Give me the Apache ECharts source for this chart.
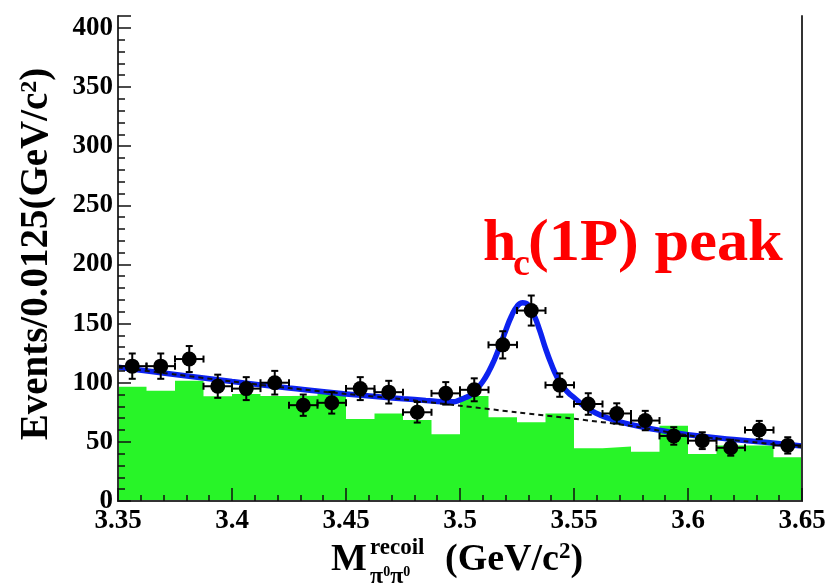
<!DOCTYPE html>
<html><head><meta charset="utf-8">
<script src="https://cdn.jsdelivr.net/npm/echarts@6/dist/echarts.min.js"></script>
<style>html,body{margin:0;padding:0;background:#fff}#c{width:831px;height:588px}</style>
</head><body><div id="c"></div>
<script>
const BIN_WIDTH = 0.0125;
const binCenters = [3.35625, 3.36875, 3.38125, 3.39375, 3.40625, 3.41875, 3.43125, 3.44375,
  3.45625, 3.46875, 3.48125, 3.49375, 3.50625, 3.51875, 3.53125, 3.54375,
  3.55625, 3.56875, 3.58125, 3.59375, 3.60625, 3.61875, 3.63125, 3.64375];
const dataCounts = [114, 114, 120, 97, 95, 100, 81, 83, 95, 92, 75, 91,
  94, 132, 161, 98, 82, 74, 68, 55, 51, 45, 60, 47];
const dataErrors = [10.7, 10.7, 11.0, 9.8, 9.7, 10.0, 9.0, 9.1, 9.7, 9.6, 8.7, 9.5,
  9.7, 11.5, 12.7, 9.9, 9.1, 8.6, 8.2, 7.4, 7.1, 6.7, 7.7, 6.9];
const mcHist = [96.5, 93.3, 101.7, 88.5, 90.5, 88.8, 89, 91, 69.3, 74, 68.5, 56.4,
  88.8, 70.8, 66.5, 74, 44.5, 46, 41.7, 63.7, 39.7, 47, 47, 37];
const fitX = [3.35, 3.375, 3.4, 3.425, 3.45, 3.475, 3.485, 3.4925, 3.4975, 3.5, 3.5025, 3.505,
  3.5075, 3.51, 3.5125, 3.515, 3.5175, 3.52, 3.5225, 3.525, 3.5275, 3.53, 3.5325, 3.535,
  3.5375, 3.54, 3.5425, 3.545, 3.5475, 3.55, 3.555, 3.56, 3.565, 3.57, 3.58, 3.59, 3.6,
  3.61, 3.62, 3.635, 3.65];
const fitY = [113, 107, 101, 95.5, 90.5, 86.5, 85, 84, 84, 85.5, 87.5, 90,
  95, 101, 109, 119, 131, 144, 156, 164.5, 167.5, 165.5, 157, 144,
  129, 116, 105, 97, 91.5, 87.5, 79.5, 74, 70, 67, 62.5, 59, 56,
  54, 52, 49.5, 46.5];
const bkgX = [3.35, 3.375, 3.4, 3.425, 3.45, 3.475, 3.5, 3.525, 3.55, 3.575, 3.6, 3.625, 3.65];
const bkgY = [113, 107, 101, 95.5, 90.5, 86, 80.5, 75, 69.5, 63.5, 55.5, 50.5, 45.5];
const yTickLabels = [0, 50, 100, 150, 200, 250, 300, 350, 400];
const X_MIN = 3.35, X_MAX = 3.65, Y_MAX = 410;

const SERIF = '"Liberation Serif", "Times New Roman", serif';
const histData = binCenters.map((c, i) => [c - BIN_WIDTH / 2, mcHist[i]]);
histData.push([binCenters[binCenters.length - 1] + BIN_WIDTH / 2, mcHist[mcHist.length - 1]]);
const ptsData = binCenters.map((c, i) => [c, dataCounts[i], dataErrors[i]]);
const fitData = fitX.map((x, i) => [x, fitY[i]]);
const bkgData = bkgX.map((x, i) => [x, bkgY[i]]);

function renderErr(params, api) {
  const c = api.value(0), v = api.value(1), e = api.value(2);
  const pL = api.coord([c - BIN_WIDTH / 2, v]);
  const pR = api.coord([c + BIN_WIDTH / 2, v]);
  const pT = api.coord([c, v + e]);
  const pB = api.coord([c, v - e]);
  const st = { stroke: '#000', lineWidth: 2 };
  const cap = 3.5;
  const L = (x1, y1, x2, y2) => ({ type: 'line', shape: { x1, y1, x2, y2 }, style: st });
  return { type: 'group', children: [
    L(pL[0], pL[1], pR[0], pR[1]),
    L(pT[0], pT[1], pB[0], pB[1]),
    L(pL[0], pL[1] - cap, pL[0], pL[1] + cap),
    L(pR[0], pR[1] - cap, pR[0], pR[1] + cap),
    L(pT[0] - cap, pT[1], pT[0] + cap, pT[1]),
    L(pB[0] - cap, pB[1], pB[0] + cap, pB[1])
  ]};
}

const frameLine = { show: true, lineStyle: { color: '#333', width: 2 } };
const labelFont = { fontFamily: SERIF, fontWeight: 'bold', fontSize: 27, color: '#000' };
const richT = (size, supSize) => ({
  a: { fontFamily: SERIF, fontWeight: 'bold', fontSize: size, fill: '#000' },
  s: { fontFamily: SERIF, fontWeight: 'bold', fontSize: supSize, fill: '#000', verticalAlign: 'top' }
});

const chart = echarts.init(document.getElementById('c'), null, { renderer: 'canvas' });
chart.setOption({
  animation: false,
  backgroundColor: '#fff',
  grid: { left: 118, right: 29, top: 16, bottom: 87 },
  xAxis: [{
    type: 'value', min: X_MIN, max: X_MAX, interval: 0.05, position: 'bottom', z: 10,
    axisLine: frameLine,
    axisTick: { inside: true, length: 13, lineStyle: { color: '#111', width: 1.5 } },
    minorTick: { show: true, splitNumber: 5, length: 6, lineStyle: { color: '#111', width: 1.5 } },
    splitLine: { show: false }, minorSplitLine: { show: false },
    axisLabel: Object.assign({ margin: 7 }, labelFont)
  }, {
    type: 'value', min: X_MIN, max: X_MAX, position: 'top', z: 10,
    axisLine: frameLine, axisTick: { show: false }, axisLabel: { show: false }, splitLine: { show: false }
  }],
  yAxis: [{
    type: 'value', min: 0, max: Y_MAX, interval: 10, position: 'left', z: 10,
    axisLine: frameLine,
    axisTick: { inside: true, length: 7, lineStyle: { color: '#111', width: 1.5 } },
    splitLine: { show: false },
    axisLabel: Object.assign({ margin: 5, formatter: v => yTickLabels.indexOf(v) >= 0 ? String(v) : '' }, labelFont)
  }, {
    type: 'value', min: 0, max: Y_MAX, interval: 50, position: 'left', z: 10,
    axisLine: { show: false },
    axisTick: { inside: true, length: 13, lineStyle: { color: '#111', width: 1.5 } },
    splitLine: { show: false }, axisLabel: { show: false }
  }, {
    type: 'value', min: 0, max: Y_MAX, position: 'right', z: 10,
    axisLine: frameLine, axisTick: { show: false }, axisLabel: { show: false }, splitLine: { show: false }
  }],
  series: [{
    type: 'line', data: histData, step: 'end', symbol: 'none', z: 1,
    lineStyle: { width: 0, opacity: 0 },
    areaStyle: { color: '#28f428', opacity: 1 }
  }, {
    type: 'line', data: fitData, smooth: 0.5, symbol: 'none', z: 3,
    lineStyle: { color: '#0c22f0', width: 5.5 }
  }, {
    type: 'line', data: bkgData, smooth: 0.3, symbol: 'none', z: 4,
    lineStyle: { color: '#111', width: 2, type: [5, 4] }
  }, {
    type: 'custom', data: ptsData, renderItem: renderErr, z: 5,
    encode: { x: 0, y: 1 }
  }, {
    type: 'scatter', data: ptsData.map(p => [p[0], p[1]]), symbol: 'circle', symbolSize: 15, z: 6,
    itemStyle: { color: '#000', opacity: 1 }
  }],
  graphic: [
    { type: 'text', x: 37, y: 254, rotation: Math.PI / 2, z: 20,
      style: { text: '{a|Events/0.0125(GeV/c}{s|2}{a|)}', fill: '#000', rich: richT(39, 24),
        align: 'center', verticalAlign: 'middle', textAlign: 'center', textVerticalAlign: 'middle' } },
    { type: 'text', x: 331, y: 560, z: 20,
      style: { text: 'M', fontFamily: SERIF, fontWeight: 'bold', fontSize: 38, fill: '#000',
        align: 'left', verticalAlign: 'middle', textAlign: 'left', textVerticalAlign: 'middle' } },
    { type: 'text', x: 370, y: 548, z: 20,
      style: { text: 'recoil', fontFamily: SERIF, fontWeight: 'bold', fontSize: 23, fill: '#000',
        align: 'left', verticalAlign: 'middle', textAlign: 'left', textVerticalAlign: 'middle' } },
    { type: 'text', x: 370, y: 577, z: 20,
      style: { text: '{p|π}{z|0}{p|π}{z|0}', fill: '#000', align: 'left', verticalAlign: 'middle',
        textAlign: 'left', textVerticalAlign: 'middle',
        rich: { p: { fontFamily: SERIF, fontWeight: 'bold', fontSize: 24, fill: '#000' },
                z: { fontFamily: SERIF, fontWeight: 'bold', fontSize: 14, fill: '#000', verticalAlign: 'top' } } } },
    { type: 'text', x: 445, y: 560, z: 20,
      style: { text: '{a|(GeV/c}{s|2}{a|)}', fill: '#000', rich: richT(38, 23),
        align: 'left', verticalAlign: 'middle', textAlign: 'left', textVerticalAlign: 'middle' } },
    { type: 'text', x: 483, y: 244.7, z: 20,
      style: { text: 'h', fontFamily: SERIF, fontWeight: 'bold', fontSize: 60, fill: '#ff0000',
        align: 'left', verticalAlign: 'middle', textAlign: 'left', textVerticalAlign: 'middle' } },
    { type: 'text', x: 513, y: 265.4, z: 20,
      style: { text: 'c', fontFamily: SERIF, fontWeight: 'bold', fontSize: 38, fill: '#ff0000',
        align: 'left', verticalAlign: 'middle', textAlign: 'left', textVerticalAlign: 'middle' } },
    { type: 'text', x: 528, y: 244.7, scaleX: 1.04, z: 20,
      style: { text: '(1P) peak', fontFamily: SERIF, fontWeight: 'bold', fontSize: 60, fill: '#ff0000',
        align: 'left', verticalAlign: 'middle', textAlign: 'left', textVerticalAlign: 'middle' } }
  ]
});
</script></body></html>
